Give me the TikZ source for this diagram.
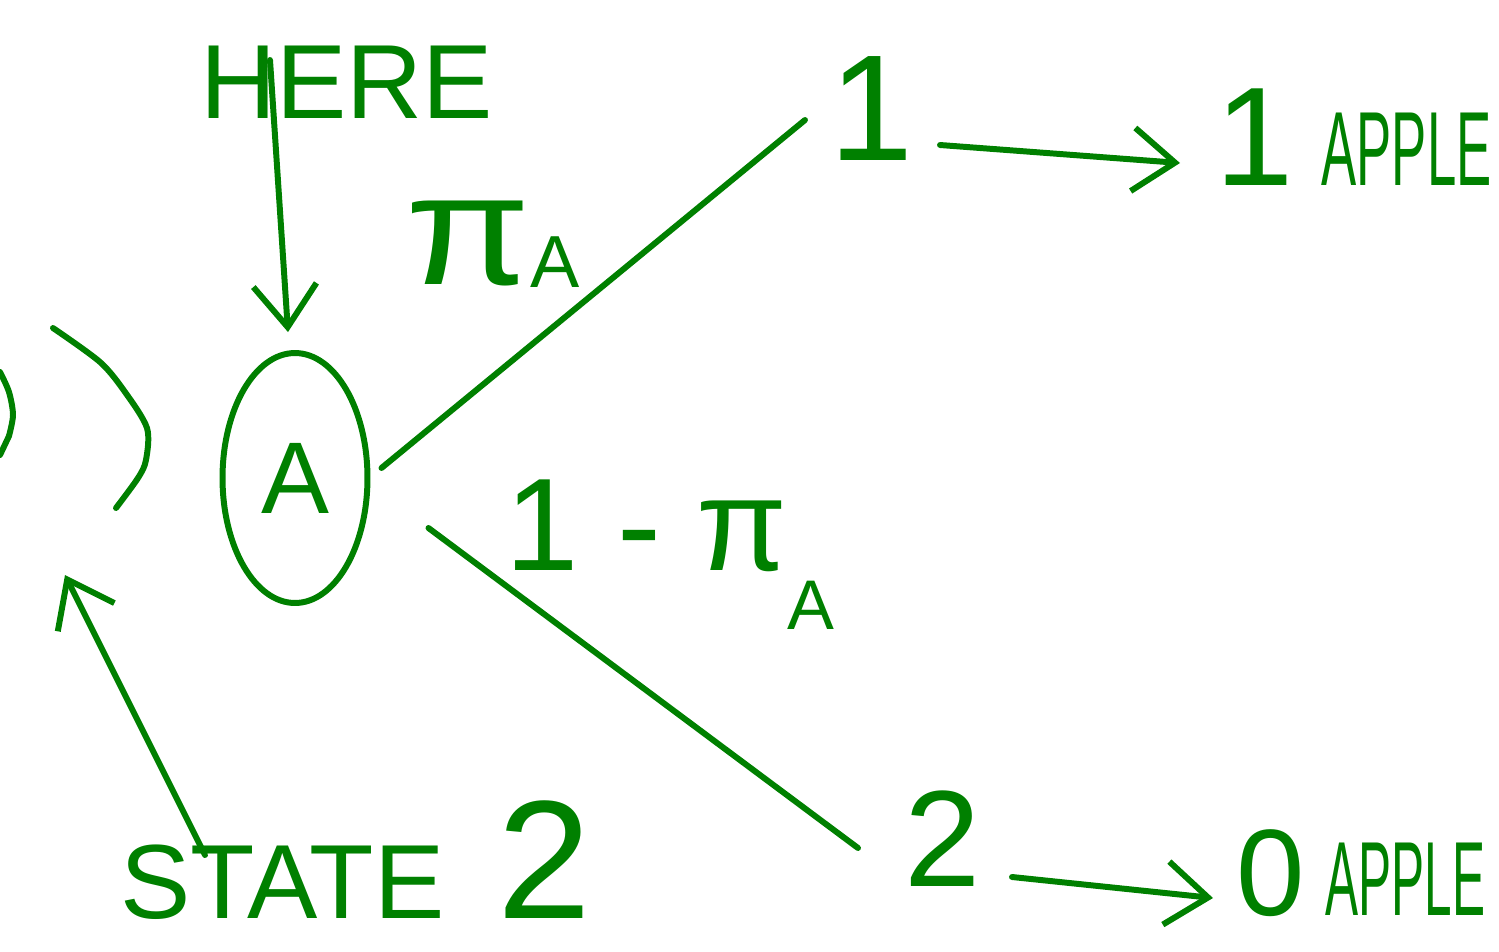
\documentclass[tikz,border=0pt]{standalone}
\usepackage{fontspec}
\setmainfont{Liberation Sans}
\usetikzlibrary{arrows.meta,calc,shapes.geometric}
\definecolor{ink}{RGB}{0,128,0}
\begin{document}
\begin{tikzpicture}[x=0.02cm,y=-0.02cm,
  inkline/.style={draw=ink,line width=3.4pt,line cap=round,line join=round},
  arr/.style={inkline,-{Straight Barb[length=24pt,width=36pt]}},
  lbl/.style={text=ink,inner sep=0pt},
  oval/.style={ellipse,draw=ink,line width=3.4pt,text=ink,minimum width=2.9cm,minimum height=5cm,inner sep=0pt},
]
\useasboundingbox (0,0) rectangle (1499,951);
\clip (0,0) rectangle (1499,951);
\fill[white] (0,0) rectangle (1499,951);

% nodes
\node[lbl,anchor=base west] (here) at (200,118) {\fontsize{60}{60}\selectfont HERE};
\node[oval] (A) at (295,478) {\fontsize{58}{58}\selectfont A};
\node[lbl,anchor=base west] (piA) at (405,284) {\fontsize{90}{90}\selectfont \scalebox{1.15}[1]{π}\raisebox{-2pt}{\fontsize{42}{42}\selectfont A}};
\node[lbl,anchor=base] (one) at (872,160) {\fontsize{86}{86}\selectfont 1};
\node[lbl,anchor=base west] (apple1) at (1215,185) {\fontsize{80}{80}\selectfont 1\hspace{16pt}\fontsize{60}{60}\selectfont \scalebox{0.5}[1]{APPLE}};
\node[lbl,anchor=base west] (onepiA) at (505,570) {\fontsize{75}{75}\selectfont 1\hspace{22pt}-\hspace{20pt}π\raisebox{-34pt}{\fontsize{40}{40}\selectfont A}};
\node[lbl,anchor=base] (two) at (943,886) {\fontsize{78}{78}\selectfont 2};
\node[lbl,anchor=base west] (apple0) at (1236,915) {\fontsize{70}{70}\selectfont 0\hspace{12pt}\fontsize{60}{60}\selectfont \scalebox{0.47}[1]{APPLE}};
\node[lbl,anchor=base west] (state) at (120,918) {\fontsize{60}{60}\selectfont STATE\hspace{30pt}\fontsize{96}{96}\selectfont 2};
\coordinate (prev) at (0,420);

% partial node at the left edge
\draw[inkline] plot[smooth] coordinates {(53,328) (100,362) (125,392) (147,428) (146,460) (138,478) (116,508)};
\draw[inkline] plot[smooth] coordinates {(0,372) (9,392) (13,415) (9,436)};
\draw[inkline] (9,436) -- (0,455);

% connectors
\draw[arr] ($(here.base west)+(70,-58)$) -- ($(A.north)+(-7,-18)$);
\draw[inkline] ($(A.east)+(11,-10)$) -- ($(one.base)+(-67,-40)$);
\draw[inkline] ($(A.east)+(58,50)$) -- ($(two.base)+(-85,-38)$);
\draw[arr] ($(one.base)+(68,-15)$) -- ($(apple1.base west)+(-35,-22)$);
\draw[arr] ($(two.base)+(69,-9)$) -- ($(apple0.base west)+(-23,-17)$);
\draw[arr] ($(state.base west)+(85,-63)$) -- ($(prev)+(65,155)$);
\end{tikzpicture}
\end{document}
